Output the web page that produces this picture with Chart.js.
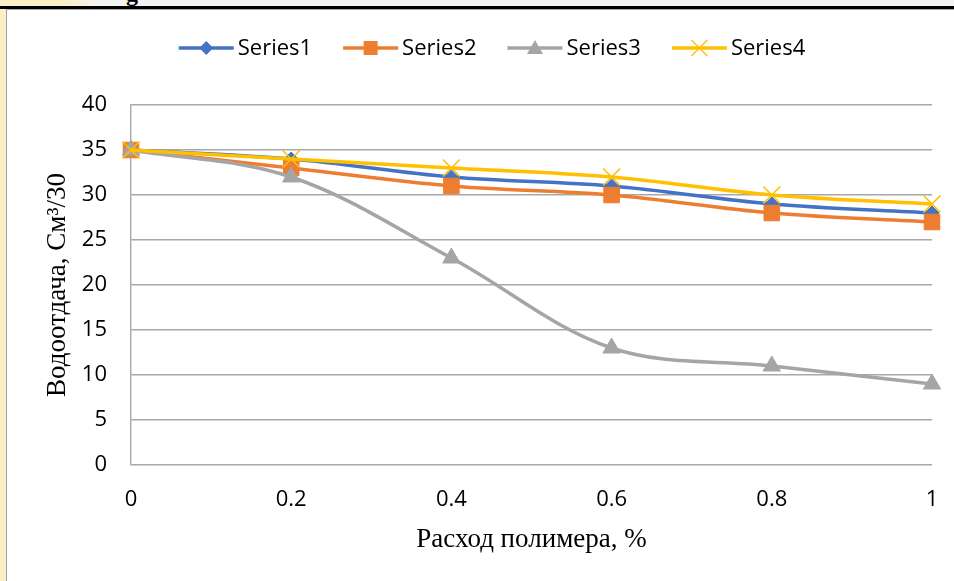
<!DOCTYPE html>
<html>
<head>
<meta charset="utf-8">
<script src="https://cdn.jsdelivr.net/npm/chart.js@4.4.1/dist/chart.umd.min.js"></script>
<style>
  body { margin: 0; background: #fff; width: 954px; height: 581px; overflow: hidden; position: relative; }
  #topbar { position: absolute; left: 0; top: 0; width: 954px; height: 6px; background: #f3f3f3; overflow: hidden; }
  #topglow { position: absolute; left: 0; top: 0; width: 100px; height: 6px; background: linear-gradient(to right, #fbeec6 60%, #f3f3f3); }
  #cut { position: absolute; left: 126px; top: -20px; font: bold 24px "Liberation Serif"; color: #000; }
  #blackline { position: absolute; left: 0; top: 6px; width: 954px; height: 3px; background: #000; }
  #greyline { position: absolute; left: 7px; top: 9px; width: 947px; height: 1px; background: #a6a6a6; }
  #leftstrip { position: absolute; left: 0; top: 9px; width: 6px; height: 572px; background: #fcefc8; }
  #leftline { position: absolute; left: 6px; top: 9px; width: 1px; height: 572px; background: #a6a6a6; }
  #wrap { position: absolute; left: 8px; top: 10px; width: 946px; height: 571px; }
</style>
</head>
<body>
<div id="topbar"><div id="topglow"></div><div id="cut">g</div></div>
<div id="blackline"></div>
<div id="greyline"></div>
<div id="leftstrip"></div>
<div id="leftline"></div>
<div id="wrap"><canvas id="chart"></canvas></div>
<script>
let categories = ["0", "0.2", "0.4", "0.6", "0.8", "1"];
let series1 = [35, 34, 32, 31, 29, 28];
let series2 = [35, 33, 31, 30, 28, 27];
let series3 = [35, 32, 23, 13, 11, 9];
let series4 = [35, 34, 33, 32, 30, 29];
let seriesNames = ["Series1", "Series2", "Series3", "Series4"];
let colors = ["#4472C4", "#ED7D31", "#A5A5A5", "#FFC000"];
let markers = ["diamond", "square", "triangle", "x"];

// legend drawn by hand: line with the marker in the middle, then the name
let excelLegend = {
  id: "excelLegend",
  afterDraw(chart){
    let g = chart.ctx;
    g.save();
    g.font = "22px 'Open Sans'";
    g.textBaseline = "middle";
    let iconW = 55, gap = 4, space = 31;
    let widths = seriesNames.map((n) => g.measureText(n).width);
    let total = widths.reduce((a, b) => a + b, 0) + 4 * (iconW + gap) + 3 * space;
    let x = 484 - total / 2, y = 38;
    for (let i = 0; i < 4; i++){
      g.strokeStyle = colors[i]; g.fillStyle = colors[i];
      g.lineWidth = 3.5;
      g.beginPath(); g.moveTo(x, y); g.lineTo(x + iconW, y); g.stroke();
      let cx = x + iconW / 2;
      g.beginPath();
      if(markers[i] === "diamond"){
        g.moveTo(cx, y - 7); g.lineTo(cx + 7, y); g.lineTo(cx, y + 7); g.lineTo(cx - 7, y); g.closePath(); g.fill();
      }else if(markers[i] === "square"){
        g.rect(cx - 7, y - 7, 14, 14); g.fill();
      }else if(markers[i] === "triangle"){
        g.moveTo(cx, y - 8); g.lineTo(cx + 8, y + 6); g.lineTo(cx - 8, y + 6); g.closePath(); g.fill();
      }else{
        g.lineWidth = 1.3;
        g.moveTo(cx - 8, y - 8); g.lineTo(cx + 8, y + 8);
        g.moveTo(cx + 8, y - 8); g.lineTo(cx - 8, y + 8); g.stroke();
      }
      g.fillStyle = "#000";
      g.fillText(seriesNames[i], x + iconW + gap, y + 1);
      x += iconW + gap + widths[i] + space;
    }
    g.restore();
  }
};

function makeSet(i, values, style, radius){
  return {
    label: seriesNames[i],
    data: values,
    borderColor: colors[i],
    backgroundColor: colors[i],
    borderWidth: 3.5,
    tension: 0.35,
    pointStyle: style,
    pointRadius: radius,
    pointHoverRadius: radius,
    pointBorderWidth: style === "crossRot" ? 1.6 : 1,
    pointBackgroundColor: colors[i],
    pointBorderColor: colors[i],
    order: 3 - i
  };
}

let tickFont = { family: "Open Sans", size: 22 };
let titleFont = { family: "Liberation Serif", size: 27 };

new Chart(document.getElementById("chart"), {
  type: "line",
  data: {
    labels: categories,
    datasets: [
      makeSet(0, series1, "rectRot", 7),
      makeSet(1, series2, "rect", 11),
      makeSet(2, series3, "triangle", 10),
      makeSet(3, series4, "crossRot", 12)
    ]
  },
  options: {
    responsive: true,
    maintainAspectRatio: false,
    animation: false,
    layout: { padding: { top: 95, right: 22, left: 0, bottom: 0 } },
    plugins: {
      tooltip: { enabled: false },
      legend: { display: false }
    },
    scales: {
      x: {
        offset: false,
        grid: { display: false, drawTicks: false },
        border: { display: false },
        ticks: { font: tickFont, color: "#000", padding: 22, maxRotation: 0 },
        title: { display: true, text: "Расход полимера, %", font: titleFont, color: "#000", padding: { top: 4, bottom: 25 } },
        afterFit: (axis) => { axis.height = 116; axis.paddingLeft = 0; axis.paddingRight = 0; }
      },
      y: {
        min: 0,
        max: 40,
        ticks: { stepSize: 5, font: tickFont, color: "#000", padding: 24 },
        grid: { color: "#a8a8a8", lineWidth: 1.4, drawTicks: false },
        border: { display: true, color: "#a8a8a8", width: 1.4 },
        title: { display: true, text: "Водоотдача, См³/30", font: titleFont, color: "#000", padding: { top: 34, bottom: 4 } },
        afterFit: (axis) => { axis.width = 123; }
      }
    }
  },
  plugins: [excelLegend]
});
</script>
</body>
</html>
